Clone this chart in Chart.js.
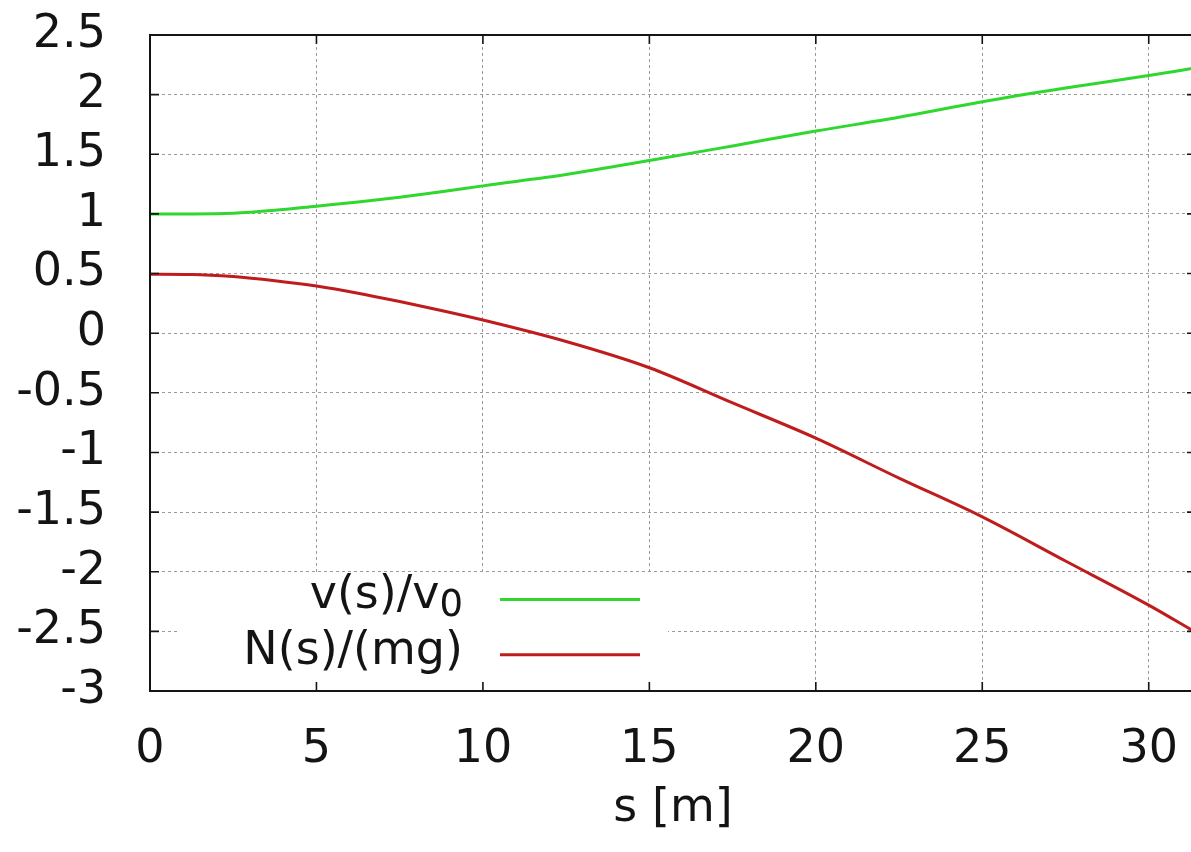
<!DOCTYPE html>
<html>
<head>
<meta charset="utf-8">
<script src="https://cdn.jsdelivr.net/npm/chart.js@4.4.1/dist/chart.umd.min.js"></script>
<style>
  html, body { margin: 0; padding: 0; background: #ffffff; overflow: hidden; }
  #wrap { position: absolute; left: 0; top: 0; width: 1200px; height: 852px; }
</style>
</head>
<body>
<div id="wrap"><canvas id="c"></canvas></div>
<script>
// Arc length s along the track [m]
const sValues = [0, 1.25, 2.5, 3.75, 5, 6.25, 7.5, 8.75, 10, 12.5, 15, 17.5, 20, 22.5, 25, 27.5, 30, 31.42];
// Speed relative to the initial speed, v(s)/v0
const speedRatio = [1.0, 1.0, 1.005, 1.03, 1.065, 1.1, 1.14, 1.185, 1.235, 1.33, 1.447, 1.57, 1.695, 1.81, 1.94, 2.055, 2.16, 2.225];
// Normal force in units of the weight, N(s)/(mg)
const normalRatio = [0.495, 0.493, 0.475, 0.44, 0.395, 0.335, 0.265, 0.19, 0.11, -0.07, -0.29, -0.585, -0.88, -1.215, -1.54, -1.91, -2.28, -2.51];

const seriesLabels = ['v(s)/v_0', 'N(s)/(mg)'];
const seriesColors = ['#2fd72f', '#bf1d1d'];

const xTicks = [0, 5, 10, 15, 20, 25, 30];
const yTicks = [-3, -2.5, -2, -1.5, -1, -0.5, 0, 0.5, 1, 1.5, 2, 2.5];
const xRange = [0, 31.42];
const yRange = [-3, 2.5];
const xTitle = 's [m]';

const FONT = "'DejaVu Sans', 'Liberation Sans', sans-serif";
const INK = '#141414';

function points(ys) {
  return sValues.map((s, i) => ({ x: s, y: ys[i] }));
}

// Draws text with an optional "_x" subscript, right-aligned at xRight
function drawKeyText(ctx, label, xRight, yMid, size) {
  const parts = label.split('_');
  const main = parts[0];
  const sub = parts.length > 1 ? parts[1] : '';
  const subSize = Math.round(size * 0.8);
  ctx.textBaseline = 'middle';
  ctx.textAlign = 'left';
  ctx.font = size + 'px ' + FONT;
  const wMain = ctx.measureText(main).width;
  ctx.font = subSize + 'px ' + FONT;
  const wSub = sub ? ctx.measureText(sub).width : 0;
  const x0 = xRight - wMain - wSub;
  ctx.fillStyle = INK;
  ctx.font = size + 'px ' + FONT;
  ctx.fillText(main, x0, yMid);
  if (sub) {
    ctx.font = subSize + 'px ' + FONT;
    ctx.fillText(sub, x0 + wMain, yMid + 10);
  }
}

// Opaque key box, plot frame and inward tick marks
const framePlugin = {
  id: 'frame',
  afterDatasetsDraw(chart) {
    const { ctx, chartArea: a, scales } = chart;
    ctx.save();

    // key (bottom left, opaque)
    const size = 46;
    const rowH = size * 1.2;
    const boxTop = a.bottom - 117;
    ctx.fillStyle = '#ffffff';
    ctx.fillRect(a.left + 28, boxTop, 490, a.bottom - boxTop);
    chart.data.datasets.forEach((ds, i) => {
      const yMid = boxTop + 25.5 + i * rowH;
      drawKeyText(ctx, ds.label, a.left + 313, yMid - 3, size);
      ctx.strokeStyle = ds.borderColor;
      ctx.lineWidth = 3;
      ctx.beginPath();
      ctx.moveTo(a.left + 350, yMid);
      ctx.lineTo(a.left + 490, yMid);
      ctx.stroke();
    });

    // frame
    ctx.strokeStyle = INK;
    ctx.lineWidth = 2;
    ctx.strokeRect(a.left, a.top, a.right - a.left, a.bottom - a.top);

    // tick marks pointing into the plot on all four sides
    const tl = 9;
    ctx.lineWidth = 1.6;
    ctx.beginPath();
    scales.x.ticks.forEach(t => {
      const px = scales.x.getPixelForValue(t.value);
      ctx.moveTo(px, a.bottom); ctx.lineTo(px, a.bottom - tl);
      ctx.moveTo(px, a.top); ctx.lineTo(px, a.top + tl);
    });
    scales.y.ticks.forEach(t => {
      const py = scales.y.getPixelForValue(t.value);
      ctx.moveTo(a.left, py); ctx.lineTo(a.left + tl, py);
      ctx.moveTo(a.right, py); ctx.lineTo(a.right - tl, py);
    });
    ctx.stroke();
    ctx.restore();
  }
};

new Chart(document.getElementById('c'), {
  type: 'line',
  data: {
    datasets: [
      {
        label: seriesLabels[0],
        data: points(speedRatio),
        borderColor: seriesColors[0],
        backgroundColor: seriesColors[0],
        borderWidth: 3,
        pointRadius: 0,
        cubicInterpolationMode: 'monotone',
        fill: false
      },
      {
        label: seriesLabels[1],
        data: points(normalRatio),
        borderColor: seriesColors[1],
        backgroundColor: seriesColors[1],
        borderWidth: 3,
        pointRadius: 0,
        cubicInterpolationMode: 'monotone',
        fill: false
      }
    ]
  },
  options: {
    responsive: true,
    maintainAspectRatio: false,
    animation: false,
    events: [],
    layout: { padding: { left: 0, top: 35, right: 4, bottom: 0 } },
    plugins: {
      legend: { display: false },
      tooltip: { enabled: false }
    },
    scales: {
      x: {
        type: 'linear',
        min: xRange[0],
        max: xRange[1],
        afterBuildTicks: s => { s.ticks = xTicks.map(v => ({ value: v })); },
        afterFit: s => { s.height = 161; s.paddingLeft = 0; s.paddingRight = 0; },
        grid: { color: '#9a9a9a', lineWidth: 1, drawTicks: false },
        border: { display: false, dash: [3, 3] },
        ticks: {
          padding: 31,
          color: INK,
          font: { family: FONT, size: 46 },
          maxRotation: 0,
          autoSkip: false,
          callback: v => String(v)
        },
        title: {
          display: true,
          text: xTitle,
          color: INK,
          font: { family: FONT, size: 46 },
          padding: { top: 0, bottom: 15 }
        }
      },
      y: {
        type: 'linear',
        min: yRange[0],
        max: yRange[1],
        afterBuildTicks: s => { s.ticks = yTicks.map(v => ({ value: v })); },
        afterFit: s => { s.width = 150; s.paddingTop = 0; s.paddingBottom = 0; },
        grid: { color: '#9a9a9a', lineWidth: 1, drawTicks: false },
        border: { display: false, dash: [3, 3] },
        ticks: {
          padding: 44,
          color: INK,
          font: { family: FONT, size: 46 },
          autoSkip: false,
          callback: v => String(v)
        }
      }
    }
  },
  plugins: [framePlugin]
});
</script>
</body>
</html>
